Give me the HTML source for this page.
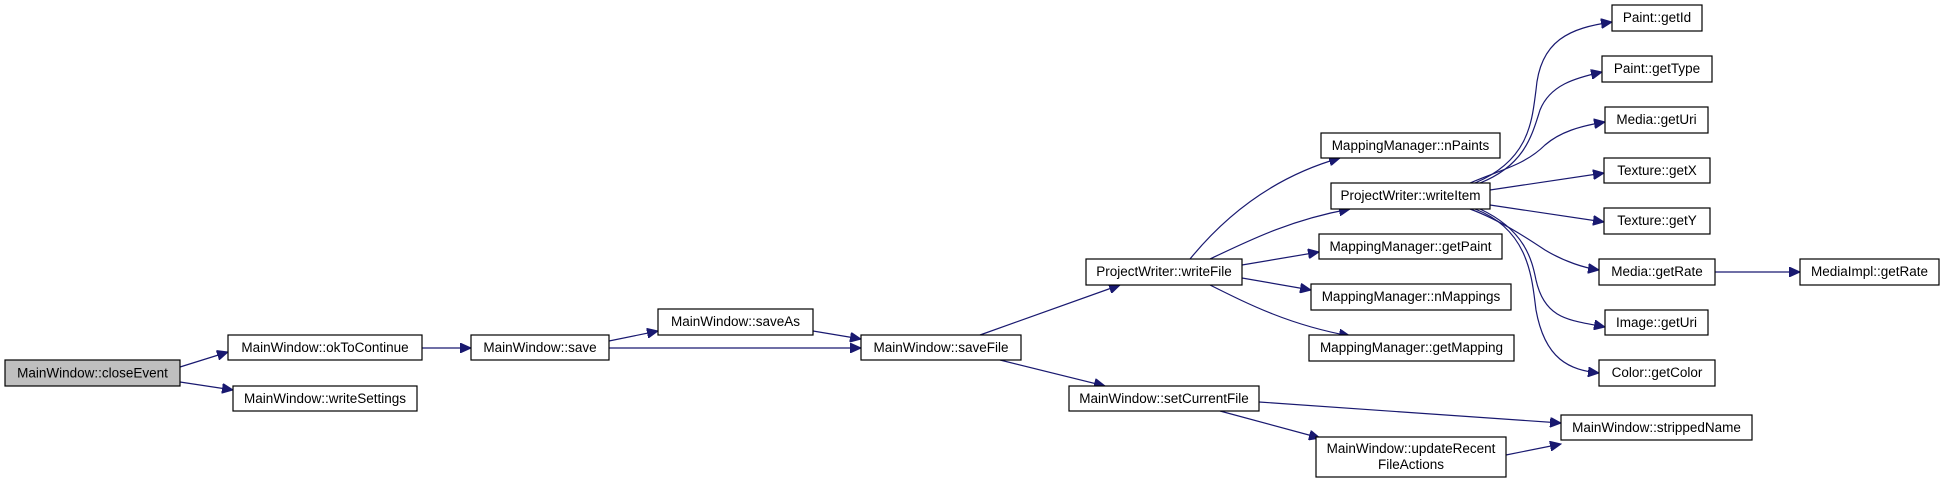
<!DOCTYPE html>
<html><head><meta charset="utf-8"><style>
html,body{margin:0;padding:0;background:#fff;}
svg{display:block;}
text{font-family:"Liberation Sans",sans-serif;font-size:13.5px;fill:#000;}
rect{stroke:#000;stroke-width:1.2;fill:#fff;}
path{stroke:#191970;stroke-width:1.2;fill:none;}
</style></head><body>
<svg width="1943" height="483" viewBox="0 0 1943 483" xmlns="http://www.w3.org/2000/svg">
<defs>
<marker id="a" markerUnits="userSpaceOnUse" markerWidth="12" markerHeight="10" refX="11" refY="5" orient="auto">
<path d="M0,0 L11,5 L0,10 Z" style="fill:#191970;stroke:#191970;stroke-width:1"/>
</marker>
</defs>
<g marker-end="url(#a)">
<path d="M180,367 L228,352"/>
<path d="M180,382 L233,390"/>
<path d="M422,348 L471,348"/>
<path d="M609,341 L658,331"/>
<path d="M609,348 L861,348"/>
<path d="M813,331 L861,339"/>
<path d="M980,335 L1120,285"/>
<path d="M1000,360 L1105,386"/>
<path d="M1190,259 C1230,210 1280,175 1340,158"/>
<path d="M1210,259 C1250,240 1290,220 1350,209"/>
<path d="M1242,265 L1319,252"/>
<path d="M1242,278 L1311,290"/>
<path d="M1210,285 C1250,305 1290,325 1350,336"/>
<path d="M1259,402 L1561,423"/>
<path d="M1220,411 L1320,438"/>
<path d="M1506,455 L1561,444"/>
<path d="M1475,183 C1530,160 1532,120 1536,90 C1540,40 1570,28 1612,22"/>
<path d="M1480,183 C1525,165 1532,135 1540,110 C1550,85 1575,78 1602,72"/>
<path d="M1470,183 C1500,170 1525,165 1545,145 C1560,132 1580,126 1605,122"/>
<path d="M1490,190 L1604,173"/>
<path d="M1490,205 L1604,222"/>
<path d="M1470,209 C1500,220 1530,240 1545,250 C1565,262 1585,268 1599,270"/>
<path d="M1480,209 C1525,230 1532,260 1536,280 C1545,320 1570,320 1605,327"/>
<path d="M1475,209 C1530,230 1532,280 1536,310 C1545,360 1570,370 1599,373"/>
<path d="M1715,272 L1800,272"/>
</g>
<rect x="5" y="360" width="175" height="26" style="fill:#bfbfbf"/><text x="92.5" y="377.5" text-anchor="middle">MainWindow::closeEvent</text>
<rect x="228" y="335" width="194" height="25"/><text x="325" y="352" text-anchor="middle">MainWindow::okToContinue</text>
<rect x="233" y="386" width="184" height="25"/><text x="325" y="403" text-anchor="middle">MainWindow::writeSettings</text>
<rect x="471" y="335" width="138" height="25"/><text x="540" y="352" text-anchor="middle">MainWindow::save</text>
<rect x="658" y="309" width="155" height="26"/><text x="735.5" y="326" text-anchor="middle">MainWindow::saveAs</text>
<rect x="861" y="335" width="160" height="25"/><text x="941" y="352" text-anchor="middle">MainWindow::saveFile</text>
<rect x="1086" y="259" width="156" height="26"/><text x="1164" y="276" text-anchor="middle">ProjectWriter::writeFile</text>
<rect x="1069" y="386" width="190" height="25"/><text x="1164" y="403" text-anchor="middle">MainWindow::setCurrentFile</text>
<rect x="1321" y="133" width="179" height="25"/><text x="1410.5" y="150" text-anchor="middle">MappingManager::nPaints</text>
<rect x="1331" y="183" width="159" height="26"/><text x="1410.5" y="200" text-anchor="middle">ProjectWriter::writeItem</text>
<rect x="1319" y="234" width="183" height="25"/><text x="1410.5" y="251" text-anchor="middle">MappingManager::getPaint</text>
<rect x="1311" y="284" width="200" height="26"/><text x="1411" y="301" text-anchor="middle">MappingManager::nMappings</text>
<rect x="1309" y="335" width="205" height="26"/><text x="1411.5" y="352" text-anchor="middle">MappingManager::getMapping</text>
<rect x="1316" y="437" width="190" height="40"/><text x="1411" y="453" text-anchor="middle">MainWindow::updateRecent</text><text x="1411" y="469" text-anchor="middle">FileActions</text>
<rect x="1561" y="415" width="191" height="25"/><text x="1656.5" y="432" text-anchor="middle">MainWindow::strippedName</text>
<rect x="1612" y="5" width="90" height="26"/><text x="1657" y="22" text-anchor="middle">Paint::getId</text>
<rect x="1602" y="56" width="110" height="26"/><text x="1657" y="73" text-anchor="middle">Paint::getType</text>
<rect x="1605" y="107" width="103" height="26"/><text x="1656.5" y="124" text-anchor="middle">Media::getUri</text>
<rect x="1604" y="158" width="106" height="25"/><text x="1657" y="175" text-anchor="middle">Texture::getX</text>
<rect x="1604" y="208" width="106" height="26"/><text x="1657" y="225" text-anchor="middle">Texture::getY</text>
<rect x="1599" y="259" width="116" height="26"/><text x="1657" y="276" text-anchor="middle">Media::getRate</text>
<rect x="1800" y="259" width="139" height="26"/><text x="1869.5" y="276" text-anchor="middle">MediaImpl::getRate</text>
<rect x="1605" y="310" width="103" height="25"/><text x="1656.5" y="327" text-anchor="middle">Image::getUri</text>
<rect x="1599" y="360" width="116" height="26"/><text x="1657" y="377" text-anchor="middle">Color::getColor</text>
</svg>
</body></html>
